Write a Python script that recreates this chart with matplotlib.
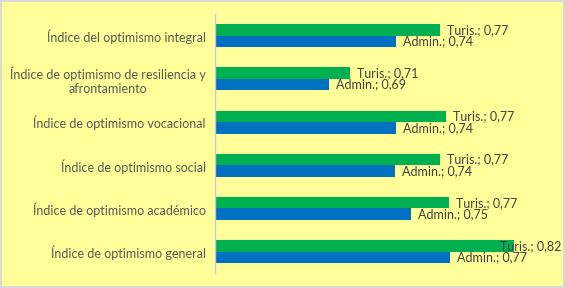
import matplotlib
matplotlib.use("Agg")
import matplotlib.pyplot as plt
import matplotlib.transforms as mtransforms

categories = [
    "Índice del optimismo integral",
    "Índice de optimismo de resiliencia y\nafrontamiento",
    "Índice de optimismo vocacional",
    "Índice de optimismo social",
    "Índice de optimismo académico",
    "Índice de optimismo general",
]
turis = [0.766, 0.706, 0.770, 0.766, 0.772, 0.816]
admin = [0.737, 0.692, 0.737, 0.736, 0.747, 0.773]
series_names = ["Turis.", "Admin."]

W, H = 565, 288
fig = plt.figure(figsize=(W / 100, H / 100), dpi=100)
bg = "#FFFF99"
fig.patch.set_facecolor(bg)
fig.patch.set_edgecolor("#D9D9D9")
fig.patch.set_linewidth(1.5)

left, right, top, bottom = 214.7, 555, 14, 273.3
ax = fig.add_axes([left / W, (H - bottom) / H, (right - left) / W, (bottom - top) / H])
ax.set_facecolor(bg)

font = "Lato"
n = len(categories)
ys = [n - 1 - i for i in range(n)]
bh = 0.266
ax.barh([y + bh / 2 for y in ys], turis, height=bh, color="#00B050", left=0)
ax.barh([y - bh / 2 for y in ys], admin, height=bh, color="#0070C0", left=0)

ax.set_xlim(0.615, 0.615 + (right - left) / 1490)
ax.set_ylim(-0.5, n - 0.5)
ax.set_yticks(ys)
ax.set_yticklabels(categories, fontsize=9, color="#595959", family=font,
                   multialignment="center")
ax.tick_params(axis="y", length=0, pad=6.5)
ax.set_xticks([])
for s in ["top", "right", "bottom"]:
    ax.spines[s].set_visible(False)
ax.spines["left"].set_color("#C8C8E0")
ax.spines["left"].set_linewidth(1)

offset = mtransforms.ScaledTranslation(7 / 100, 0, fig.dpi_scale_trans)
texts = []
for vals, name, dy in [(turis, series_names[0], bh / 2), (admin, series_names[1], -bh / 2)]:
    for y, v in zip(ys, vals):
        lab = f"{name}; " + f"{v:.2f}".replace(".", ",")
        t = ax.text(v, y + dy, lab, transform=ax.transData + offset, fontsize=9,
                    color="#404040", family=font, va="center", ha="left", clip_on=False)
        texts.append(t)

fig.canvas.draw()
r = fig.canvas.get_renderer()
for t in texts:
    bb = t.get_window_extent(r)
    if bb.x1 > W - 4:
        shift = bb.x1 - (W - 4)
        x, y = t.get_position()
        px = ax.transData.transform((x, y))
        nx = ax.transData.inverted().transform((px[0] - shift, px[1]))[0]
        t.set_position((nx, y))

fig.savefig("out.png", dpi=100, facecolor=bg, edgecolor="#D9D9D9")
